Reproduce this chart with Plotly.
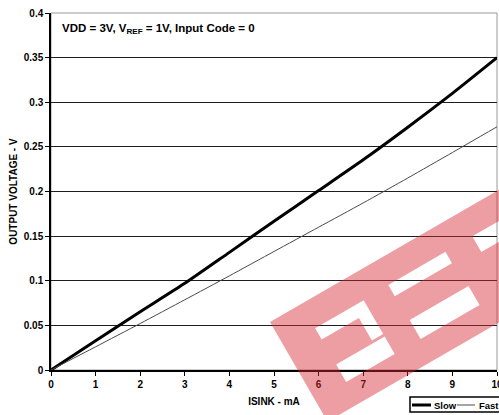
import math
import plotly.graph_objects as go

# ---- data ----
isink_ma = [0, 1, 2, 3, 4, 5, 6, 7, 8, 9, 10]
slow_v = [0.0, 0.0329, 0.0653, 0.0971, 0.1318, 0.1666, 0.2010, 0.2355, 0.2720, 0.3100, 0.3500]
fast_v = [0.0, 0.0260, 0.0521, 0.0787, 0.1055, 0.1328, 0.1600, 0.1872, 0.2151, 0.2437, 0.2725]
series_names = ["Slow", "Fast"]
x_ticks = [0, 1, 2, 3, 4, 5, 6, 7, 8, 9, 10]
y_ticks = [0, 0.05, 0.1, 0.15, 0.2, 0.25, 0.3, 0.35, 0.4]
y_tick_text = ["0", "0.05", "0.1", "0.15", "0.2", "0.25", "0.3", "0.35", "0.4"]

W, H = 499, 415
ML, MR, MT, MB = 51, 2, 13, 45
PW, PH = W - ML - MR, H - MT - MB
FONT = "Arial, Liberation Sans, Helvetica, sans-serif"
BOLD = dict(family=FONT, color="#000000", weight="bold")
STYLES = [dict(color="#000000", width=3), dict(color="#4a4a4a", width=1)]

fig = go.Figure()
for name, ys, st in zip(series_names, [slow_v, fast_v], STYLES):
    fig.add_trace(go.Scatter(x=isink_ma, y=ys, name=name, mode="lines", showlegend=False,
                             line=dict(st, shape="spline", smoothing=0.6)))


def px2paper(px, py):
    return (px - ML) / PW, (H - MB - py) / PH


# watermark: rotated band with rectangular cut-outs (decoration, pixel geometry)
ang = math.radians(30)
u = (math.cos(ang), -math.sin(ang))
v = (math.sin(ang), math.cos(ang))
P0 = (270, 322)


def local_rect(s0, s1, t0, t1):
    pts = []
    for s, t in [(s0, t0), (s1, t0), (s1, t1), (s0, t1)]:
        px = P0[0] + s * u[0] + t * v[0]
        py = P0[1] + s * u[1] + t * v[1]
        pts.append(px2paper(px, py))
    return "M " + " L ".join(f"{a:.4f},{b:.4f}" for a, b in pts) + " Z"


wm_path = local_rect(0, 340, 0, 115)
for r in [(36, 92, 28, 41), (79, 92, 41, 67), (36, 92, 70, 90),
          (121, 187, 27, 40), (122, 190, 68, 90), (218, 300, 27, 45)]:
    wm_path += " " + local_rect(*r)

# plot-area border (grey, top and right)
fig.add_shape(type="rect", xref="paper", yref="paper", x0=0, x1=1, y0=0, y1=1,
              line=dict(color="#9a9a9a", width=1), layer="below")

# legend box (clipped at the right edge like the reference)
lx0, ly0 = px2paper(410, 412)
lx1, ly1 = px2paper(505, 397)
fig.add_shape(type="rect", xref="paper", yref="paper", x0=lx0, x1=lx1, y0=ly0, y1=ly1,
              line=dict(color="#000000", width=1.5), fillcolor="white", layer="above")
legend_slots = [(412, 431, 432), (457, 475, 477)]
for name, st, (a, b, tx) in zip(series_names, STYLES, legend_slots):
    xa, yy = px2paper(a, 405)
    xb, _ = px2paper(b, 405)
    fig.add_shape(type="line", xref="paper", yref="paper", x0=xa, x1=xb, y0=yy, y1=yy,
                  line=st, layer="above")
    xt, _ = px2paper(tx, 405)
    fig.add_annotation(text=name, xref="paper", yref="paper", x=xt, y=yy,
                       xanchor="left", yanchor="middle", showarrow=False,
                       font=dict(BOLD, size=9.5))

fig.add_shape(type="path", path=wm_path, xref="paper", yref="paper",
              fillcolor="rgba(215,40,50,0.45)", line=dict(width=0),
              fillrule="evenodd", layer="above")

fig.add_annotation(
    text="VDD = 3V, V<sub>REF</sub> = 1V, Input Code = 0",
    xref="paper", yref="paper", x=0.02, y=0.955, xanchor="left", yanchor="middle",
    showarrow=False, font=dict(BOLD, size=11.5))

fig.update_layout(
    width=W, height=H,
    margin=dict(l=ML, r=MR, t=MT, b=MB, autoexpand=False),
    paper_bgcolor="white", plot_bgcolor="white",
    font=dict(BOLD, size=10),
    showlegend=False,
)
fig.update_xaxes(
    range=[0, 10], tickvals=x_ticks, ticktext=[str(t) for t in x_ticks],
    showgrid=False, zeroline=False, showline=True, linecolor="#000000", linewidth=1.5,
    ticks="outside", ticklen=4, tickcolor="#000000", tickwidth=1,
    tickfont=dict(BOLD, size=10), ticklabeloverflow="allow",
    title=dict(text="ISINK - mA", font=dict(BOLD, size=10), standoff=9),
    automargin=False)
fig.update_yaxes(
    range=[0, 0.4], tickvals=y_ticks, ticktext=y_tick_text,
    showgrid=True, gridcolor="#1e1e1e", gridwidth=1,
    zeroline=False, showline=True, linecolor="#000000", linewidth=1.5,
    ticks="outside", ticklen=4, tickcolor="#000000", tickwidth=1,
    tickfont=dict(BOLD, size=10),
    title=dict(text="OUTPUT VOLTAGE - V", font=dict(BOLD, size=10), standoff=4),
    automargin=False)

fig.write_html("out.html", config={"displayModeBar": False},
               post_script="document.body.style.margin='0px';document.body.style.overflow='hidden';")
